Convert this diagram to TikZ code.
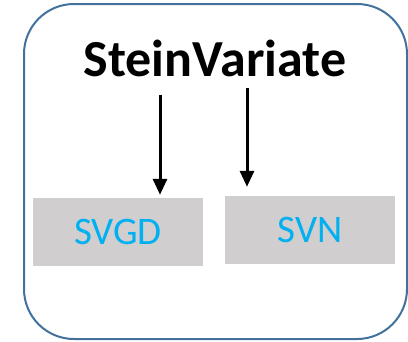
\documentclass[tikz,border=0pt]{standalone}
\usepackage{fontspec}
\setmainfont{Carlito}
\usetikzlibrary{arrows.meta}
\definecolor{frameblue}{HTML}{41719C}
\definecolor{boxgray}{HTML}{D0CECE}
\definecolor{textblue}{HTML}{00B0F0}
\tikzset{
  method/.style={fill=boxgray,minimum width=170pt,minimum height=68pt,inner sep=0pt,text=textblue,font=\fontsize{39pt}{44pt}\selectfont},
  down/.style={line width=3pt,-{Triangle[width=14pt,length=16pt]}}
}
\begin{document}
\begin{tikzpicture}[x=1pt,y=-1pt]
        \useasboundingbox (0,0) rectangle (408,341);
        %% Frame
        \draw[frameblue,line width=2pt,rounded corners=50pt] (24,4) rectangle (407,339);
        %% Package name
        \node[anchor=base,inner sep=0pt,font=\fontsize{52pt}{60pt}\selectfont\bfseries] (title) at (215,76) {SteinVariate};
        %% Methods
        \node[method] (svgd) at (118,232) {SVGD};
        \node[method] (svn) at (310,230) {SVN};
        %% Arrows
        \coordinate (from svgd) at (160,95);
        \coordinate (from svn) at (247,88);
        \draw[down,shorten >=3pt] (from svgd) -- (from svgd |- svgd.north);
        \draw[down,shorten >=9pt] (from svn) -- (from svn |- svn.north);
    \end{tikzpicture}
\end{document}
